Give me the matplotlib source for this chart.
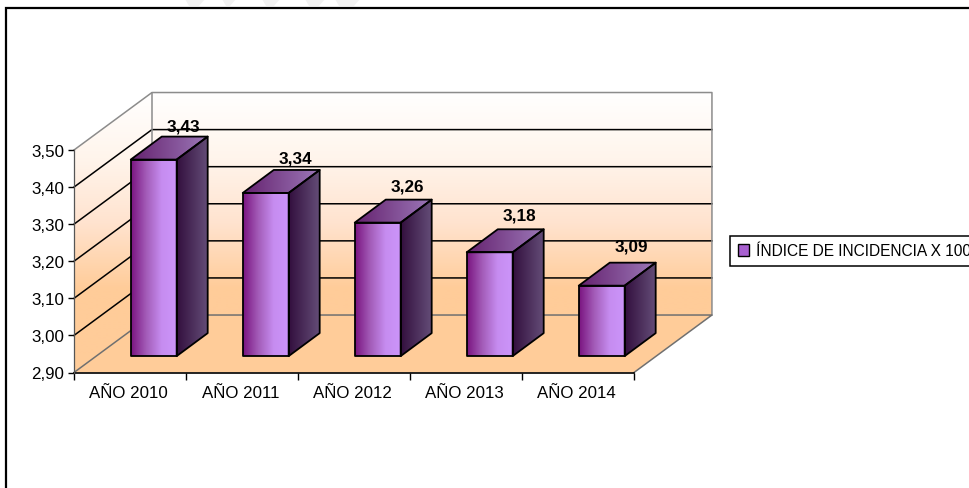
import numpy as np
import matplotlib.pyplot as plt
from matplotlib.colors import LinearSegmentedColormap
from matplotlib.patches import Patch, Polygon, Rectangle

plt.rcParams['font.family'] = ['Liberation Sans', 'DejaVu Sans']

categorias = ['AÑO 2010', 'AÑO 2011', 'AÑO 2012', 'AÑO 2013', 'AÑO 2014']
valores = [3.43, 3.34, 3.26, 3.18, 3.09]
etiquetas = ['3,43', '3,34', '3,26', '3,18', '3,09']
ticks_y = [2.90, 3.00, 3.10, 3.20, 3.30, 3.40, 3.50]
ticks_y_txt = ['2,90', '3,00', '3,10', '3,20', '3,30', '3,40', '3,50']
serie = 'ÍNDICE DE INCIDENCIA X 100'

W, H = 969, 489
fig = plt.figure(figsize=(W / 100, H / 100), dpi=100)
# el eje es el plano frontal del grafico 3D
ax = fig.add_axes([74 / W, 1 - 373.5 / H, 560 / W, 222.5 / H])

y0, y1 = 2.9, 3.5
n = len(categorias)
prof_x = 0.696   # fondo de la caja, en categorias
prof_y = 0.155   # fondo de la caja, en unidades de y
f = 0.304        # donde empieza la barra en el piso
f_y = 0.285
ancho = 0.41
bar_x = 0.277
bar_y = 0.062

naranja = '#FFCC99'
cm_pared = LinearSegmentedColormap.from_list('pared', ['#FFFFFF', '#FFF5EC', '#FFE3CF', naranja, naranja], N=256)
cm_frente = LinearSegmentedColormap.from_list('frente', ['#7A1480', '#A35CB8', '#C68CF0', '#CC95FA'])
cm_lado = LinearSegmentedColormap.from_list('lado', ['#330F3E', '#66507A'])
cm_techo = LinearSegmentedColormap.from_list('techo', ['#65226F', '#9C78B8'])


def degradado(poli, cmap, z=1):
    p = Polygon(poli, closed=True, facecolor='none', edgecolor='none', zorder=z, clip_on=False)
    ax.add_patch(p)
    xs = [a[0] for a in poli]
    ys = [a[1] for a in poli]
    g = np.linspace(0, 1, 256).reshape(1, -1)
    im = ax.imshow(g, cmap=cmap, extent=(min(xs), max(xs), min(ys), max(ys)), aspect='auto', zorder=z,
                   vmin=0, vmax=1, interpolation='bilinear')
    im.set_clip_path(p)
    im.set_clip_box(fig.bbox)


# paredes y piso
tope = y1 + prof_y
pared_fondo = [(prof_x, y0 + prof_y), (n + prof_x, y0 + prof_y), (n + prof_x, tope), (prof_x, tope)]
pared_izq = [(0, y0), (prof_x, y0 + prof_y), (prof_x, tope), (0, y1)]
piso = [(0, y0), (n, y0), (n + prof_x, y0 + prof_y), (prof_x, y0 + prof_y)]


def pared(poli):
    p = Polygon(poli, closed=True, facecolor='none', edgecolor='none', zorder=1, clip_on=False)
    ax.add_patch(p)
    g = np.linspace(0, 1, 256).reshape(-1, 1)
    # el degradado llega al naranja cerca del piso
    im = ax.imshow(g, cmap=cm_pared, extent=(0, n + prof_x, y0 + 0.05, tope), aspect='auto', zorder=1,
                   vmin=0, vmax=1, interpolation='bilinear')
    im.set_clip_path(p)
    im.set_clip_box(fig.bbox)


ax.add_patch(Polygon(pared_fondo, closed=True, facecolor=naranja, edgecolor='none', zorder=0.5, clip_on=False))
ax.add_patch(Polygon(pared_izq, closed=True, facecolor=naranja, edgecolor='none', zorder=0.5, clip_on=False))
pared(pared_fondo)
pared(pared_izq)
ax.add_patch(Polygon(piso, closed=True, facecolor=naranja, edgecolor='none', zorder=1.1, clip_on=False))

# lineas de division
for t in ticks_y[1:-1]:
    ax.plot([0, prof_x, n + prof_x], [t, t + prof_y, t + prof_y], color='black', lw=1.1, zorder=1.5, clip_on=False)
gris = '#8C8C8C'
ax.plot([0, prof_x, n + prof_x, n + prof_x], [y1, tope, tope, y0 + prof_y], color=gris, lw=1.1, zorder=1.5, clip_on=False)
ax.plot([prof_x, prof_x], [y0 + prof_y, tope], color=gris, lw=1.1, zorder=1.5, clip_on=False)
ax.plot([0, prof_x, n + prof_x, n], [y0, y0 + prof_y, y0 + prof_y, y0], color='#707070', lw=1.1, zorder=1.5, clip_on=False)

# barras
borde = dict(facecolor='none', edgecolor='black', lw=1.3, joinstyle='round')
base = y0 + f_y * prof_y
desp = f * prof_x
for i, v in enumerate(valores):
    xa = i + 0.5 + desp - ancho / 2
    xb = xa + ancho
    top = v + f_y * prof_y
    frente = [(xa, base), (xb, base), (xb, top), (xa, top)]
    lado = [(xb, base), (xb + bar_x, base + bar_y), (xb + bar_x, top + bar_y), (xb, top)]
    techo = [(xa, top), (xb, top), (xb + bar_x, top + bar_y), (xa + bar_x, top + bar_y)]
    z = 3 + i
    degradado(lado, cm_lado, z=z)
    degradado(techo, cm_techo, z=z)
    degradado(frente, cm_frente, z=z)
    for poli in (lado, techo, frente):
        ax.add_patch(Polygon(poli, closed=True, zorder=z + 0.5, clip_on=False, **borde))
    # la etiqueta se separa un poco mas en las barras bajas
    ax.text(xb + 0.06, top + bar_y + 0.007 + (valores[0] - v) * 0.05, etiquetas[i], ha='center', va='bottom',
            fontsize=12.3, fontweight='bold', color='black', zorder=20)

ax.set_xlim(0, n)
ax.set_ylim(y0, y1)
ax.patch.set_visible(False)
for s in ('top', 'right'):
    ax.spines[s].set_visible(False)
ax.spines['bottom'].set_linewidth(1.2)
ax.spines['bottom'].set_zorder(2)
ax.spines['left'].set_color('#555555')
ax.spines['left'].set_linewidth(0.9)
ax.set_yticks(ticks_y, ticks_y_txt, fontsize=12.2)
ax.set_xticks(np.arange(n) + 0.485, categorias, fontsize=12.2)
ax.set_xticks(np.arange(n + 1), minor=True)
ax.tick_params(axis='x', which='major', length=0, pad=9)
ax.tick_params(axis='x', which='minor', length=5, width=1)
ax.tick_params(axis='y', length=4, width=1, pad=3)

# leyenda, se corta en el borde como en el original
leg = fig.legend(handles=[Patch(facecolor='#A860D0', edgecolor='black', lw=1, label=serie)],
                 loc='center left', bbox_to_anchor=(730 / W, 1 - 252 / H), fontsize=11.2,
                 frameon=True, fancybox=False, framealpha=1, edgecolor='black',
                 handlelength=0.7, handleheight=0.75, handletextpad=0.45, borderpad=0.5, borderaxespad=0)
leg.get_frame().set_linewidth(1.1)

# marco exterior
fig.add_artist(Rectangle((5.5 / W, -0.1), 1.2, 1.1 - 9 / H, transform=fig.transFigure,
                         facecolor='none', edgecolor='black', lw=1.6))

# restos de la marca de agua arriba
for xa, xb in [(185, 205), (222, 236), (262, 280), (305, 325), (335, 360)]:
    fig.add_artist(Polygon([(xa / W, 1), (xb / W, 1), ((xb - 6) / W, 1 - 7 / H), ((xa + 4) / W, 1 - 7 / H)],
                           closed=True, transform=fig.transFigure, facecolor='#F2F2F2', edgecolor='none'))

fig.savefig('out.png', dpi=100)
